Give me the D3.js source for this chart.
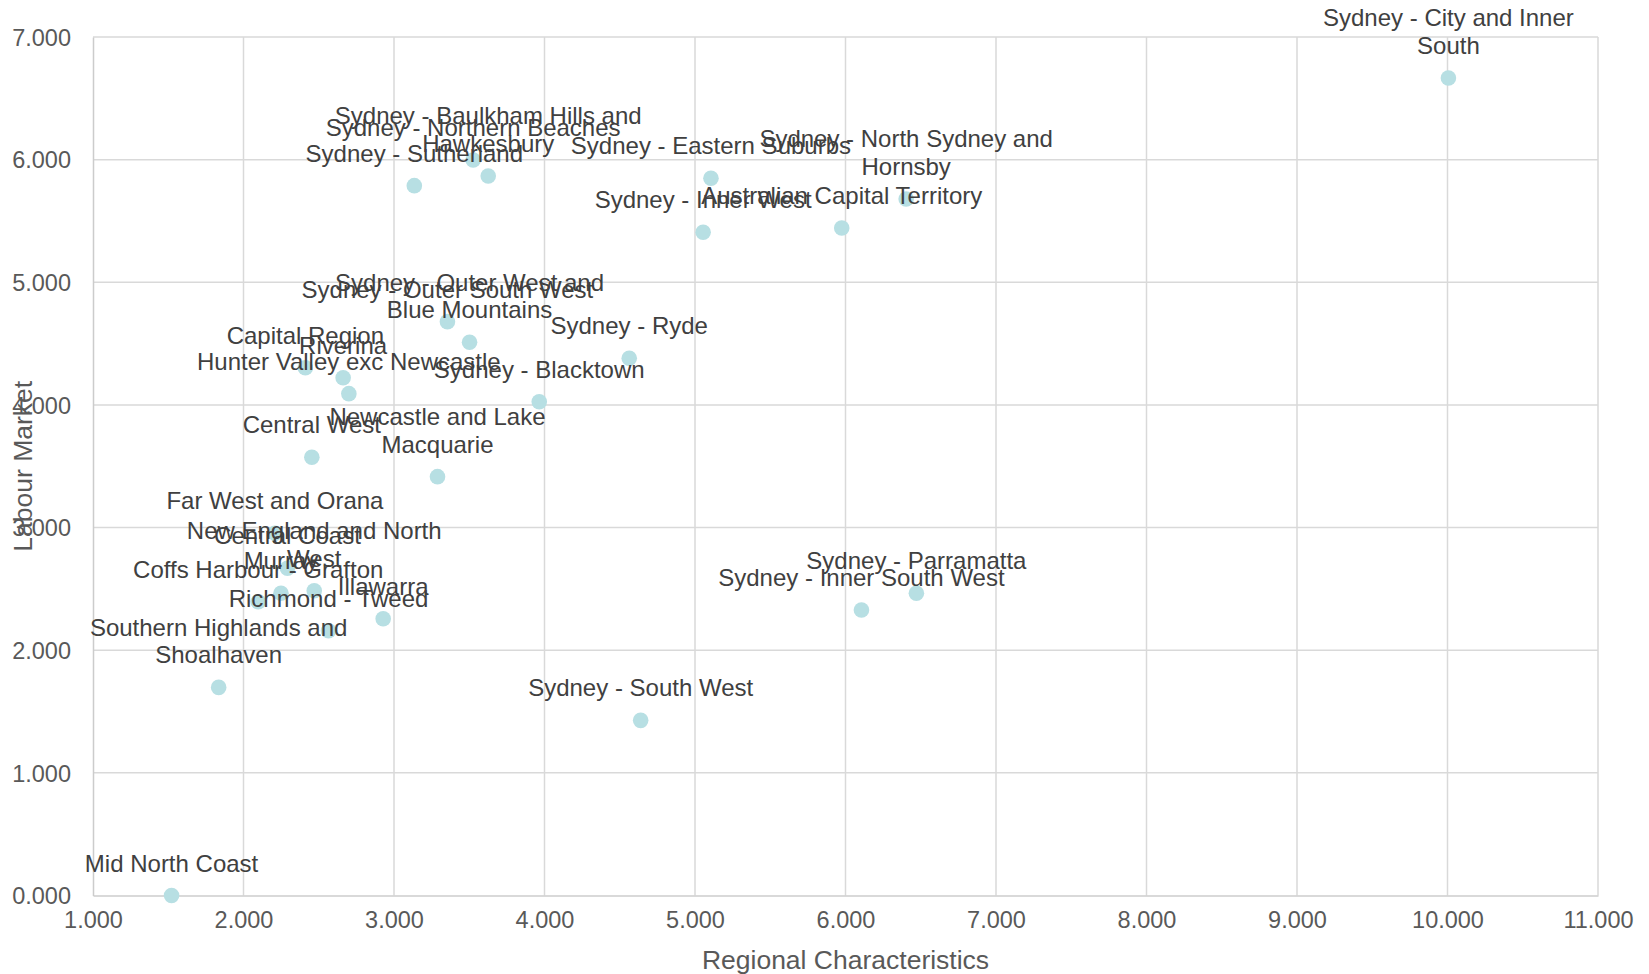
<!DOCTYPE html>
<html>
<head>
<meta charset="utf-8">
<script src="https://cdn.jsdelivr.net/npm/d3@7"></script>
<style>
  html, body { margin: 0; padding: 0; background: #ffffff; }
  svg { display: block; font-family: "Liberation Sans", Arial, sans-serif; }
</style>
</head>
<body>
<svg id="chart" width="1649" height="974"></svg>
<script>
// Regions (label lines separated by "\n")
const regions = [
  "Sydney - City and Inner\nSouth",
  "Sydney - North Sydney and\nHornsby",
  "Australian Capital Territory",
  "Sydney - Eastern Suburbs",
  "Sydney - Inner West",
  "Sydney - Ryde",
  "Sydney - Blacktown",
  "Sydney - Northern Beaches",
  "Sydney - Baulkham Hills and\nHawkesbury",
  "Sydney - Sutherland",
  "Sydney - Outer South West",
  "Sydney - Outer West and\nBlue Mountains",
  "Capital Region",
  "Riverina",
  "Hunter Valley exc Newcastle",
  "Central West",
  "Newcastle and Lake\nMacquarie",
  "Far West and Orana",
  "New England and North\nWest",
  "Central Coast",
  "Murray",
  "Coffs Harbour - Grafton",
  "Richmond - Tweed",
  "Illawarra",
  "Southern Highlands and\nShoalhaven",
  "Mid North Coast",
  "Sydney - South West",
  "Sydney - Inner South West",
  "Sydney - Parramatta"
];

// Regional Characteristics score for each region
const regionalCharacteristics = [
  10.006, 6.403, 5.975, 5.106, 5.054, 4.563, 3.965, 3.526, 3.626, 3.135,
  3.355, 3.502, 2.411, 2.662, 2.700, 2.454, 3.289, 2.209, 2.470, 2.292,
  2.249, 2.098, 2.565, 2.928, 1.835, 1.522, 4.639, 6.106, 6.471
];

// Labour Market score for each region
const labourMarket = [
  6.666, 5.679, 5.443, 5.848, 5.408, 4.380, 4.026, 5.997, 5.867, 5.788,
  4.679, 4.511, 4.303, 4.222, 4.092, 3.573, 3.415, 2.953, 2.485, 2.668,
  2.464, 2.395, 2.159, 2.257, 1.697, 0.000, 1.428, 2.328, 2.464
];

const xTicks = [1, 2, 3, 4, 5, 6, 7, 8, 9, 10, 11];
const yTicks = [0, 1, 2, 3, 4, 5, 6, 7];

const xTitle = "Regional Characteristics";
const yTitle = "Labour Market";

// Layout
const plot = { left: 93, right: 1598, top: 37, bottom: 895.5 };
const svg = d3.select("#chart");

const x = d3.scaleLinear().domain([1, 11]).range([plot.left, plot.right]);
const y = d3.scaleLinear().domain([0, 7]).range([plot.bottom, plot.top]);

const fmt = d3.format(".3f");

// Gridlines
const grid = svg.append("g").attr("class", "grid");
grid.selectAll("line.vx")
  .data(xTicks.slice(1))
  .join("line")
  .attr("x1", d => x(d)).attr("x2", d => x(d))
  .attr("y1", plot.top).attr("y2", plot.bottom)
  .attr("stroke", "#d9d9d9").attr("stroke-width", 1.5);
grid.selectAll("line.hy")
  .data(yTicks.slice(1))
  .join("line")
  .attr("x1", plot.left).attr("x2", plot.right)
  .attr("y1", d => y(d)).attr("y2", d => y(d))
  .attr("stroke", "#d9d9d9").attr("stroke-width", 1.5);

// Axes
const xAxis = svg.append("g")
  .attr("transform", `translate(0,${plot.bottom})`)
  .call(d3.axisBottom(x).tickValues(xTicks).tickFormat(fmt).tickSize(0).tickPadding(16));
const yAxis = svg.append("g")
  .attr("transform", `translate(${plot.left},0)`)
  .call(d3.axisLeft(y).tickValues(yTicks).tickFormat(fmt).tickSize(0).tickPadding(22));

[xAxis, yAxis].forEach(a => {
  a.select(".domain").attr("stroke", "#cccccc").attr("stroke-width", 1.5);
  a.selectAll("text")
    .attr("fill", "#595959")
    .style("font-size", "23.5px")
    .style("font-family", "'Liberation Sans', Arial, sans-serif");
});
xAxis.selectAll("text").attr("dy", "0.71em");
yAxis.selectAll("text").attr("dy", "0.35em");

// Axis titles
svg.append("text")
  .attr("x", (plot.left + plot.right) / 2)
  .attr("y", 969)
  .attr("text-anchor", "middle")
  .attr("fill", "#595959")
  .style("font-size", "26.5px")
  .text(xTitle);

svg.append("text")
  .attr("transform", `translate(32,${(plot.top + plot.bottom) / 2}) rotate(-90)`)
  .attr("text-anchor", "middle")
  .attr("fill", "#595959")
  .style("font-size", "26.5px")
  .text(yTitle);

// Points
const points = regions.map((name, i) => ({
  name,
  xv: regionalCharacteristics[i],
  yv: labourMarket[i]
}));

svg.append("g")
  .selectAll("circle")
  .data(points)
  .join("circle")
  .attr("cx", d => x(d.xv))
  .attr("cy", d => y(d.yv))
  .attr("r", 7.8)
  .attr("fill", "#b7dfe3");

// Data labels, centred above each point
const lineHeight = 27.6;
const labels = svg.append("g")
  .selectAll("text")
  .data(points)
  .join("text")
  .attr("text-anchor", "middle")
  .attr("fill", "#404040")
  .style("font-size", "24px");

labels.each(function (d) {
  const lines = d.name.split("\n");
  const cx = x(d.xv);
  const baseY = y(d.yv) - 24 - (lines.length - 1) * lineHeight;
  d3.select(this).selectAll("tspan")
    .data(lines)
    .join("tspan")
    .attr("x", cx)
    .attr("y", (l, j) => baseY + j * lineHeight)
    .text(l => l);
});
</script>
</body>
</html>
